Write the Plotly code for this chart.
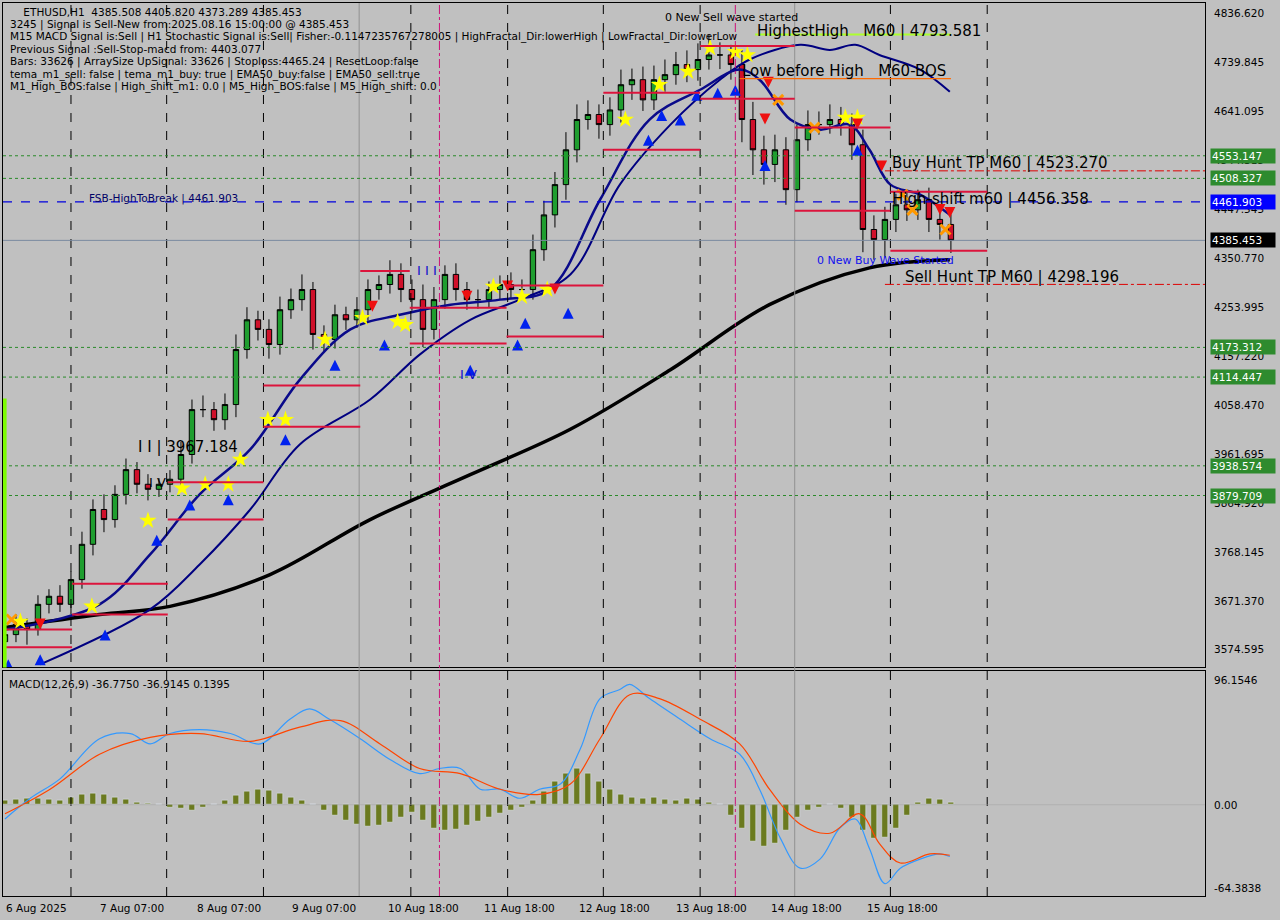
import plotly.graph_objects as go

# ---------------- data ----------------
closes = [3604,3624,3614,3664,3680,3664,3713,3783,3852,3832,3882,3931,3902,3892,3902,3912,3961,4050,4050,4030,
          4060,4169,4228,4209,4179,4248,4268,4288,4199,4189,4238,4228,4248,4288,4298,4318,4288,4268,4209,4268,
          4318,4288,4268,4268,4288,4298,4288,4288,4367,4436,4496,4565,4625,4635,4615,4644,4694,4704,4664,4704,
          4714,4734,4724,4744,4753,4753,4734,4625,4565,4536,4565,4486,4585,4615,4615,4625,4615,4575,4407,4387,
          4427,4456,4446,4466,4427,4417,4385.453]
first_open = 3590
wick_hi = [15,20,12,18,14,22,16,25,20,30,18,22,15,20,12,18,25,20,28,15,
           22,30,25,18,20,26,22,30,15,18,20,16,25,20,18,28,22,20,30,25,
           18,22,15,20,16,18,24,20,30,28,25,35,30,28,20,25,30,22,26,28,
           30,25,28,32,40,25,20,30,35,28,30,25,30,28,26,30,25,22,30,28,
           25,22,26,20,24,20,20]
wick_lo = [20,15,30,12,18,15,20,18,22,25,16,20,18,22,15,16,20,18,15,22,
           20,25,18,22,28,20,18,22,30,25,18,20,16,22,20,18,25,22,35,20,
           18,22,20,18,16,20,18,15,20,22,25,30,25,20,28,22,25,30,22,20,
           24,20,25,22,20,28,30,45,50,40,35,30,25,22,20,18,22,30,45,40,
           35,25,22,20,25,30,25]

ma200_x = [0,8.6,15,24.1,33.2,42.3,51.4,60.5,69.5,78.6,85.9]
ma200_y = [3618,3644,3660,3723,3832,3921,4011,4129,4258,4331,4347]
ema_fast_x = [0,8.6,13.2,17.7,22.3,26.8,31.4,35.9,40.5,45,49.5,54.1,58.6,63.2,66.8,68.6,71.4,74.1,76.8,78.6,80.5,83.2,85.9]
ema_fast_y = [3614,3664,3763,3882,3971,4109,4209,4238,4258,4268,4288,4466,4625,4684,4724,4704,4625,4605,4615,4565,4496,4476,4436]
ema_slow_x = [3.2,13.2,17.7,22.3,26.8,33.2,37.7,42.3,46.8,51.4,55.9,60.5,65,67.7,72.3,75,77.3,79.5,83.2,85.9]
ema_slow_y = [3545,3654,3743,3852,3981,4070,4159,4228,4268,4318,4496,4615,4704,4744,4773,4763,4773,4753,4724,4680]

macd_x = [0,2.3,5,8.6,11.4,13.2,15,17.7,20.5,23.2,25.9,27.7,29.5,32.3,35,37.7,39.5,41.4,43.2,45,46.8,48.6,50.5,52.3,
          54.1,55.9,56.8,58.6,61.4,64.1,66.8,68.6,70.5,72.3,74.1,75.9,77.3,78.6,80,81.4,83.2,85,85.9]
macd_y = [-11,5,20,51,55,47,55,58,55,47,66,74,66,51,35,24,28,28,12,12,5,12,16,43,
          82,89,93,82,66,51,39,12,-26,-49,-42,-18,-11,-34,-61,-49,-42,-38,-40]
signal_x = [0,4.1,8.6,13.2,17.7,22.3,26.8,30.5,34.1,37.7,41.4,45,48.6,51.4,54.1,56.8,59.5,63.2,66.8,69.5,72.3,75,77.7,79.5,81.4,84.1,85.9]
signal_y = [-7,12,39,52,55,49,60,65,47,28,24,12,8,16,51,85,82,66,47,12,-15,-22,-7,-30,-45,-38,-39]
hist = [3,4,5,5,4,3, 6,8,9,8,6,4,2, 1,0,-2,-3,-4,-2,0,3, 7,10,12,11,9,6,3,0,-4,
        -8,-12,-15,-17,-16,-14,-10,-6, -12,-18,-20,-19,-16,-13,-10,-7, -4,-2,3,10,18,24,
        28,24,18,12,8, 6,5,6,4,3,5,4,2, 0,-8,-18,-28,-32,-30,-20,-10, -4,-2,0,-3,-10,
        -20,-26,-25,-18,-8, 2,5,4,2]

star_x = [1.4,7.9,13,16.1,18.2,20.3,21.4,23.9,25.5,29.1,32.5,35.7,36.4,44.4,47,49.3,56.4,59.5,62.1,64.1,66.4,67.5,76.4,77.5]
star_y = [3630,3660,3830,3894,3902,3902,3951,4030,4030,4189,4232,4224,4218,4294,4274,4288,4625,4694,4720,4767,4759,4753,4629,4629]
up_x = [0.3,3.2,9.1,13.8,16.8,20.3,25.5,30,34.5,42.3,46.6,47.3,51.2,58.5,59.7,61.4,62.9,64.8,66.4,69.1,77.5]
up_y = [3555,3565,3614,3802,3872,3882,4001,4149,4189,4139,4189,4232,4252,4595,4644,4635,4684,4688,4694,4545,4575]
dn_x = [3.2,33.4,42,45.7,50,69.4,69.1,77.5,79.7,85,85.9]
dn_y = [3614,4244,4264,4284,4278,4688,4615,4605,4522,4436,4430]
x_x = [0.6,73.6,70.3,82.5,85.5,81.6]
x_y = [3634,4609,4664,4446,4407,4476]

seg_x0 = [63.2,63.2,54.4,54.4,71.8,71.8,80.5,80.5,45.6,45.6,36.8,36.8,32.3,23.5,23.5,14.8,14.8,6.1,6.1,0,0]
seg_x1 = [71.8,71.8,63.2,63.2,80.5,80.5,89.3,89.3,54.4,54.4,45.6,45.6,36.8,32.3,32.3,23.5,23.5,14.8,14.8,6.1,6.1]
seg_y = [4771,4666,4678,4565,4609,4444,4482,4365,4296,4195,4252,4181,4325,4098,4016,3906,3832,3705,3644,3614,3579]

green_levels = [4553.147,4508.327,4173.312,4114.447,3938.574,3879.709]
axis_ticks = [4836.620,4739.845,4641.095,4544.315,4447.545,4350.770,4253.995,4157.220,4058.470,3961.695,3864.920,3768.145,3671.370,3574.595]
xtick_pos = [-0.1,8.5,17.3,25.9,34.6,43.4,52,60.8,69.5,78.2]
xtick_txt = ["6 Aug 2025","7 Aug 07:00","8 Aug 07:00","9 Aug 07:00","10 Aug 18:00","11 Aug 18:00",
             "12 Aug 18:00","13 Aug 18:00","14 Aug 18:00","15 Aug 18:00"]
vdash = [6,14.7,23.5,36.9,45.7,54.4,63.2,80.5,89.3]
vsolid = [32.2,71.8]
vmag = [39.5,66.4]

# ---------------- build ----------------
opens = [first_open] + closes[:-1]
highs = [max(o, c) + w for o, c, w in zip(opens, closes, wick_hi)]
lows = [min(o, c) - w for o, c, w in zip(opens, closes, wick_lo)]
idx = list(range(len(closes)))

FONT = "DejaVu Sans"
BG = "#c0c0c0"
XR = [-0.18, 109.1]
fig = go.Figure()

fig.add_trace(go.Candlestick(x=idx, open=opens, high=highs, low=lows, close=closes,
    increasing=dict(line=dict(color="black", width=1), fillcolor="#1f9e2f"),
    decreasing=dict(line=dict(color="black", width=1), fillcolor="#d0102a"),
    whiskerwidth=0, xaxis="x", yaxis="y", showlegend=False))
fig.add_trace(go.Scatter(x=ma200_x, y=ma200_y, mode="lines", line=dict(color="black", width=3.5, shape="spline"), xaxis="x", yaxis="y"))
fig.add_trace(go.Scatter(x=ema_slow_x, y=ema_slow_y, mode="lines", line=dict(color="#000080", width=2, shape="spline"), xaxis="x", yaxis="y"))
fig.add_trace(go.Scatter(x=ema_fast_x, y=ema_fast_y, mode="lines", line=dict(color="#0a0a8a", width=2.5, shape="spline"), xaxis="x", yaxis="y"))
fig.add_trace(go.Scatter(x=star_x, y=star_y, mode="markers", marker=dict(symbol="star", size=13, color="yellow", line=dict(width=0)), xaxis="x", yaxis="y"))
fig.add_trace(go.Scatter(x=up_x, y=up_y, mode="markers", marker=dict(symbol="arrow-up", size=11, color="#0022ee"), xaxis="x", yaxis="y"))
fig.add_trace(go.Scatter(x=dn_x, y=dn_y, mode="markers", marker=dict(symbol="arrow-down", size=11, color="#ee1010"), xaxis="x", yaxis="y"))
fig.add_trace(go.Scatter(x=x_x, y=x_y, mode="markers", marker=dict(symbol="x-thin", size=10, line=dict(width=3, color="#ff9900")), xaxis="x", yaxis="y"))

# MACD pane
fig.add_trace(go.Bar(x=idx, y=hist, marker=dict(color="#6b7a1f"), width=0.55, xaxis="x2", yaxis="y2"))
fig.add_trace(go.Scatter(x=macd_x, y=macd_y, mode="lines", line=dict(color="#3399ff", width=1.2, shape="spline"), xaxis="x2", yaxis="y2"))
fig.add_trace(go.Scatter(x=signal_x, y=signal_y, mode="lines", line=dict(color="#ff4500", width=1.2, shape="spline"), xaxis="x2", yaxis="y2"))

shapes = []
for v in vdash:
    shapes.append(dict(type="line", xref="x", yref="paper", x0=v, x1=v, y0=0, y1=1, line=dict(color="black", width=1, dash="dash")))
for v in vsolid:
    shapes.append(dict(type="line", xref="x", yref="paper", x0=v, x1=v, y0=0, y1=1, line=dict(color="#909090", width=1)))
for v in vmag:
    shapes.append(dict(type="line", xref="x", yref="paper", x0=v, x1=v, y0=0, y1=1, line=dict(color="#cc1177", width=1, dash="dashdot")))
for lv in green_levels:
    shapes.append(dict(type="line", xref="x", yref="y", x0=XR[0], x1=XR[1], y0=lv, y1=lv, line=dict(color="#2a8a2a", width=1, dash="dot")))
shapes.append(dict(type="line", xref="x", yref="y", x0=XR[0], x1=XR[1], y0=4461.903, y1=4461.903, line=dict(color="#0000dd", width=1.2, dash="dash")))
shapes.append(dict(type="line", xref="x", yref="y", x0=XR[0], x1=XR[1], y0=4385.453, y1=4385.453, line=dict(color="#7a8aa0", width=1)))
for lv in [4523.270, 4298.196]:
    shapes.append(dict(type="line", xref="x", yref="y", x0=80.0, x1=XR[1], y0=lv, y1=lv, line=dict(color="#dd0000", width=1, dash="dashdot")))
shapes.append(dict(type="line", xref="x", yref="y", x0=68.2, x1=86, y0=4793.581, y1=4793.581, line=dict(color="#adff2f", width=2)))
shapes.append(dict(type="line", xref="x", yref="y", x0=66.8, x1=86, y0=4706, y1=4706, line=dict(color="#ff6a00", width=1.2)))
for a, b, y in zip(seg_x0, seg_x1, seg_y):
    shapes.append(dict(type="line", xref="x", yref="y", x0=a, x1=b, y0=y, y1=y, line=dict(color="#dc143c", width=2)))
shapes.append(dict(type="rect", xref="paper", yref="paper", x0=0, x1=0.003, y0=0.256, y1=0.557, fillcolor="#7cfc00", line=dict(width=0)))
shapes.append(dict(type="line", xref="x2", yref="y2", x0=XR[0], x1=XR[1], y0=0, y1=0, line=dict(color="#a0a0a0", width=0.5)))

ann = []
def T(x, y, s, size=11, color="black", xref="x", yref="y"):
    ann.append(dict(x=x, y=y, xref=xref, yref=yref, text=s, showarrow=False, xanchor="left", yanchor="middle",
                    font=dict(family=FONT, size=size, color=color)))

info = ["    ETHUSD,H1  4385.508 4405.820 4373.289 4385.453",
        "3245 | Signal is Sell-New from:2025.08.16 15:00:00 @ 4385.453",
        "M15 MACD Signal is:Sell | H1 Stochastic Signal is:Sell| Fisher:-0.1147235767278005 | HighFractal_Dir:lowerHigh | LowFractal_Dir:lowerLow",
        "Previous Signal :Sell-Stop-macd from: 4403.077",
        "Bars: 33626 | ArraySize UpSignal: 33626 | Stoploss:4465.24 | ResetLoop:false",
        "tema_m1_sell: false | tema_m1_buy: true | EMA50_buy:false | EMA50_sell:true",
        "M1_High_BOS:false | High_shift_m1: 0.0 | M5_High_BOS:false | M5_High_shift: 0.0"]
for i, s in enumerate(info):
    ann.append(dict(x=0.004, y=1 - (9 + i * 12.5) / 895, xref="paper", yref="paper", text=s, showarrow=False,
                    xanchor="left", yanchor="middle", font=dict(family=FONT, size=10.5, color="black")))

T(11.9, 3975, "I I | 3967.184", 15)
T(12.9, 3905, "I V", 13)
T(37.3, 4325, "I I I", 13, "#1010cc")
T(41.2, 4120, "I V", 13, "#1010cc")
T(7.5, 4468, "FSB-HighToBreak | 4461.903", 10.5, "#000066")
T(59.8, 4828, "0 New Sell wave started", 11)
T(68.2, 4800, "HighestHigh   M60 | 4793.581", 15)
T(66.8, 4721, "Low before High   M60-BOS", 15)
T(80.5, 4538, "Buy Hunt TP M60 | 4523.270", 15)
T(80.5, 4467, "High-shift m60 | 4456.358", 15)
T(73.6, 4345, "0 New Buy Wave Started", 11, "#1010ee")
T(81.6, 4313, "Sell Hunt TP M60 | 4298.196", 15)
T(0.003, 93.0, "MACD(12,26,9) -36.7750 -36.9145 0.1395", 10.5, "black", "paper", "y2")

for v in axis_ticks:
    T(1.006, v, f"{v:.3f}", 10.5, "black", "paper", "y")
for v, lab in [(96.1546, "96.1546"), (0, "0.00"), (-64.3838, "-64.3838")]:
    T(1.006, v, lab, 10.5, "black", "paper", "y2")
boxes = [(4553.147, "#2e8b2e"), (4508.327, "#2e8b2e"), (4461.903, "#0000ff"), (4385.453, "#000000"),
         (4173.312, "#2e8b2e"), (4114.447, "#2e8b2e"), (3938.574, "#2e8b2e"), (3879.709, "#2e8b2e")]
for v, c in boxes:
    ann.append(dict(x=1.004, y=v, xref="paper", yref="y", text=f"{v:.3f}", showarrow=False, xanchor="left",
                    yanchor="middle", bgcolor=c, width=62, align="left", borderpad=1,
                    font=dict(family=FONT, size=10.5, color="white")))
for p, s in zip(xtick_pos, xtick_txt):
    ann.append(dict(x=p, y=-0.004, xref="x2", yref="paper", text=s, showarrow=False, xanchor="left", yanchor="top",
                    font=dict(family=FONT, size=10.5, color="black")))

fig.update_layout(
    width=1280, height=920, paper_bgcolor=BG, plot_bgcolor=BG, showlegend=False,
    margin=dict(l=3, r=75, t=3, b=24), shapes=shapes, annotations=ann, bargap=0,
    xaxis=dict(domain=[0, 1], range=XR, showgrid=False, zeroline=False, showticklabels=False,
               rangeslider=dict(visible=False), anchor="y", showline=True, mirror=True, linecolor="black"),
    yaxis=dict(domain=[0.256, 1], range=[3539, 4856], showgrid=False, zeroline=False, showticklabels=False,
               showline=True, mirror=True, linecolor="black"),
    xaxis2=dict(domain=[0, 1], range=XR, showgrid=False, zeroline=False, showticklabels=False, anchor="y2",
                showline=True, mirror=True, linecolor="black"),
    yaxis2=dict(domain=[0, 0.2515], range=[-70.5, 103.0], showgrid=False, zeroline=False, showticklabels=False,
                showline=True, mirror=True, linecolor="black"),
)
fig.write_html("out.html", config={"displayModeBar": False},
               post_script="document.body.style.margin='0';document.body.style.background='#c0c0c0';")
